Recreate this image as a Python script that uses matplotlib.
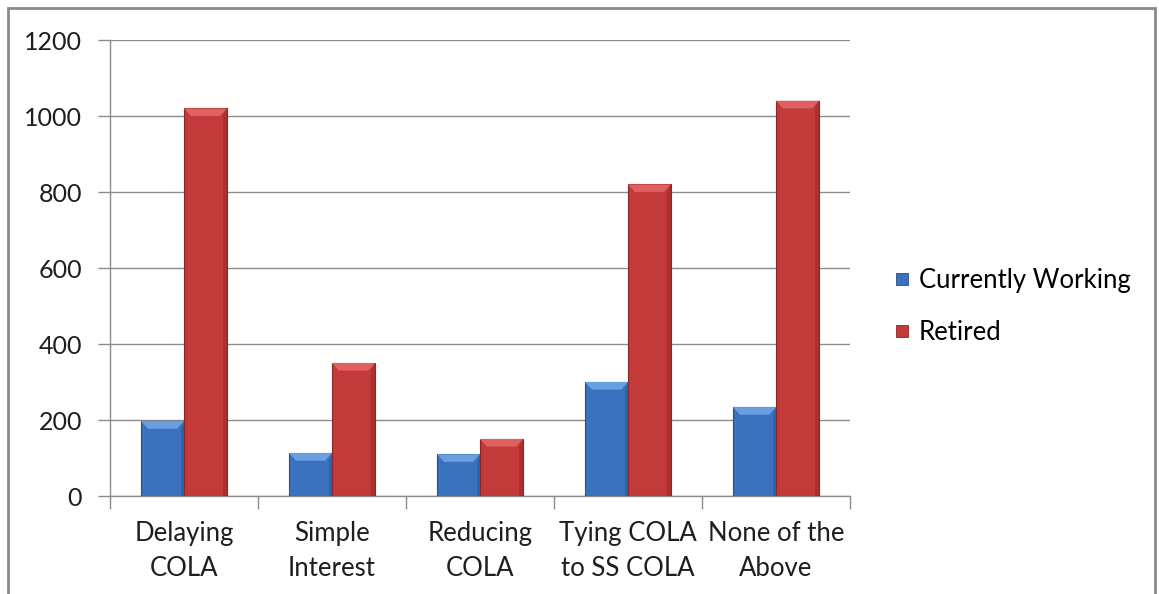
import matplotlib
matplotlib.use("Agg")
import matplotlib.pyplot as plt
import numpy as np
from matplotlib.patches import Rectangle, Polygon
from matplotlib.lines import Line2D

plt.rcParams["font.family"] = ["Lato", "DejaVu Sans"]

categories = ["Delaying\nCOLA", "Simple\nInterest", "Reducing\nCOLA",
              "Tying COLA\nto SS COLA", "None of the\nAbove"]
working = [197, 113, 110, 300, 234]
retired = [1020, 350, 150, 820, 1040]
series_names = ["Currently Working", "Retired"]

blue = "#3b72bd"
red = "#c23a3a"
blue_light = "#6aa0e2"
red_light = "#e06060"
blue_dark = "#244f8a"
red_dark = "#8e2626"
grid_gray = "#8c8c8c"
text_col = "#1e1e1e"

fig = plt.figure(figsize=(11.59, 5.94), dpi=100)
ax = fig.add_axes([110 / 1159, 98 / 594, 740 / 1159, 456 / 594])

x = np.arange(len(categories))
w = 0.29


def bevel_bars(xs, vals, color, light, dark):
    bars = ax.bar(xs, vals, width=w, color=color, edgecolor=dark,
                  linewidth=0.8, zorder=3)
    for b in bars:
        x0, y0 = b.get_x(), b.get_y()
        bw, bh = b.get_width(), b.get_height()
        d = min(bh * 0.5, 20)  # bevel depth in data units
        inset = bw * 0.16
        # lit top face
        ax.add_patch(Polygon([(x0, y0 + bh), (x0 + bw, y0 + bh),
                              (x0 + bw - inset, y0 + bh - d), (x0 + inset, y0 + bh - d)],
                             closed=True, facecolor=light, edgecolor="none", zorder=4))
        # shaded right side
        ax.add_patch(Polygon([(x0 + bw, y0 + bh), (x0 + bw, y0),
                              (x0 + bw - inset * 0.5, y0), (x0 + bw - inset * 0.5, y0 + bh - d)],
                             closed=True, facecolor=dark, edgecolor="none", alpha=0.45, zorder=4))
    return bars


bevel_bars(x - w / 2, working, blue, blue_light, blue_dark)
bevel_bars(x + w / 2, retired, red, red_light, red_dark)

ax.set_xlim(-0.5, len(categories) - 0.5)
ax.set_ylim(0, 1200)
ax.set_yticks(np.arange(0, 1201, 200))
ax.yaxis.grid(True, color=grid_gray, linewidth=1.0, zorder=0)
ax.set_axisbelow(True)

ax.set_xticks(np.arange(-0.5, len(categories), 1.0))
ax.set_xticklabels([])
ax.set_xticks(x, minor=True)
ax.set_xticklabels(categories, minor=True, fontsize=18.5, color=text_col, linespacing=1.5)
ax.tick_params(axis="x", which="minor", length=0, pad=18)
ax.tick_params(axis="x", which="major", length=9, color=grid_gray, width=1.0)
ax.tick_params(axis="y", length=9, color=grid_gray, width=1.0, labelsize=18,
               labelcolor=text_col, pad=11)

for s in ["top", "right"]:
    ax.spines[s].set_visible(False)
for s in ["left", "bottom"]:
    ax.spines[s].set_color(grid_gray)
    ax.spines[s].set_linewidth(1.0)

handles = [Line2D([], [], marker="s", linestyle="none", markersize=9,
                  markerfacecolor=c, markeredgecolor=e, markeredgewidth=0.6)
           for c, e in [(blue, blue_dark), (red, red_dark)]]
fig.legend(handles, series_names, loc="upper left", bbox_to_anchor=(879 / 1159, 1 - 258 / 594),
           frameon=False, fontsize=18.5, handletextpad=0.15, labelspacing=1.05,
           handlelength=1.0, borderaxespad=0)

# chart frame
fig.patches.append(Rectangle((8 / 1159, -0.05), 1147 / 1159, 1 - 8 / 594 + 0.05,
                             transform=fig.transFigure, fill=False,
                             edgecolor="#8a8a8a", linewidth=2.0))

fig.savefig("out.png", dpi=100)
